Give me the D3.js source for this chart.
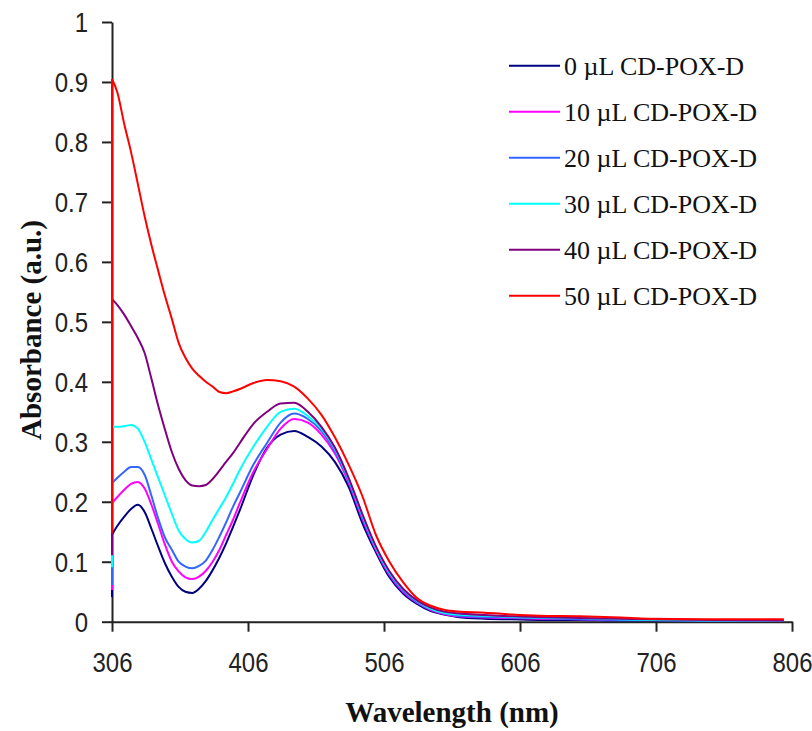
<!DOCTYPE html>
<html>
<head>
<meta charset="utf-8">
<script src="https://cdn.jsdelivr.net/npm/d3@7"></script>
<style>
  html, body { margin: 0; padding: 0; background: #fff; }
  svg { display: block; }
</style>
</head>
<body>
<svg id="chart" width="812" height="731"></svg>
<script>
// ---- data ----
const wavelengths = [306, 306, 310, 315, 320, 325, 330, 335, 340, 345, 350, 355, 360, 365, 370, 375, 380, 385, 390, 395, 400, 410, 420, 430, 440, 450, 460, 470, 480, 490, 500, 510, 520, 530, 540, 550, 560, 580, 600, 620, 650, 680, 700, 750, 800];

const s0uL  = [0.041, 0.145, 0.160, 0.175, 0.188, 0.195, 0.183, 0.155, 0.125, 0.097, 0.075, 0.058, 0.050, 0.048, 0.055, 0.068, 0.086, 0.107, 0.131, 0.158, 0.186, 0.245, 0.290, 0.312, 0.318, 0.308, 0.292, 0.266, 0.225, 0.165, 0.116, 0.074, 0.047, 0.030, 0.018, 0.012, 0.008, 0.005, 0.004, 0.003, 0.003, 0.002, 0.002, 0.001, 0.001];
const s10uL = [0.053, 0.198, 0.208, 0.220, 0.230, 0.233, 0.222, 0.195, 0.162, 0.128, 0.100, 0.084, 0.074, 0.071, 0.075, 0.085, 0.100, 0.120, 0.145, 0.170, 0.198, 0.250, 0.288, 0.322, 0.338, 0.332, 0.312, 0.280, 0.232, 0.172, 0.120, 0.078, 0.050, 0.032, 0.020, 0.013, 0.009, 0.007, 0.006, 0.005, 0.004, 0.003, 0.003, 0.002, 0.002];
const s20uL = [0.061, 0.231, 0.240, 0.250, 0.258, 0.258, 0.245, 0.210, 0.172, 0.140, 0.120, 0.100, 0.092, 0.089, 0.093, 0.102, 0.120, 0.142, 0.166, 0.192, 0.215, 0.262, 0.298, 0.332, 0.347, 0.338, 0.318, 0.284, 0.235, 0.175, 0.122, 0.080, 0.052, 0.033, 0.021, 0.014, 0.010, 0.008, 0.007, 0.006, 0.004, 0.003, 0.003, 0.002, 0.002];
const s30uL = [0.091, 0.325, 0.325, 0.326, 0.328, 0.322, 0.300, 0.270, 0.240, 0.210, 0.180, 0.152, 0.138, 0.132, 0.135, 0.150, 0.170, 0.189, 0.208, 0.230, 0.253, 0.292, 0.325, 0.350, 0.355, 0.343, 0.322, 0.288, 0.238, 0.178, 0.124, 0.082, 0.054, 0.035, 0.022, 0.015, 0.012, 0.010, 0.008, 0.007, 0.006, 0.004, 0.003, 0.002, 0.002];
const s40uL = [0.111, 0.538, 0.528, 0.512, 0.493, 0.473, 0.448, 0.405, 0.360, 0.320, 0.283, 0.255, 0.236, 0.227, 0.226, 0.228, 0.238, 0.252, 0.267, 0.281, 0.298, 0.330, 0.350, 0.364, 0.365, 0.350, 0.325, 0.290, 0.240, 0.180, 0.126, 0.084, 0.055, 0.036, 0.024, 0.017, 0.014, 0.011, 0.009, 0.008, 0.006, 0.005, 0.004, 0.003, 0.002];
const s50uL = [0.148, 0.905, 0.882, 0.830, 0.783, 0.730, 0.676, 0.628, 0.585, 0.543, 0.505, 0.465, 0.440, 0.422, 0.410, 0.400, 0.392, 0.383, 0.381, 0.384, 0.388, 0.398, 0.403, 0.401, 0.392, 0.372, 0.345, 0.307, 0.262, 0.210, 0.145, 0.100, 0.066, 0.040, 0.027, 0.020, 0.017, 0.015, 0.012, 0.010, 0.009, 0.007, 0.005, 0.004, 0.004];

const seriesNames = ["0 \u00B5L CD-POX-D", "10 \u00B5L CD-POX-D", "20 \u00B5L CD-POX-D", "30 \u00B5L CD-POX-D", "40 \u00B5L CD-POX-D", "50 \u00B5L CD-POX-D"];
const seriesValues = [s0uL, s10uL, s20uL, s30uL, s40uL, s50uL];
const seriesColors = ["#000080", "#FF00FF", "#3366FF", "#00FFFF", "#800080", "#FF0000"];

const xTicks = [306, 406, 506, 606, 706, 806];
const yTicks = [0, 0.1, 0.2, 0.3, 0.4, 0.5, 0.6, 0.7, 0.8, 0.9, 1];
const yTickLabels = ["0", "0.1", "0.2", "0.3", "0.4", "0.5", "0.6", "0.7", "0.8", "0.9", "1"];

const xTitle = "Wavelength (nm)";
const yTitle = "Absorbance (a.u.)";

// ---- drawing ----
const svg = d3.select("#chart");
svg.append("rect").attr("width", 812).attr("height", 731).attr("fill", "#fff");

const x = d3.scaleLinear().domain([306, 806]).range([112, 792]);
const y = d3.scaleLinear().domain([0, 1]).range([621.7, 22]);

const tickFont = "'Liberation Sans', Arial, sans-serif";
const serifFont = "'Liberation Serif', 'Times New Roman', serif";

// Y axis
const yAxis = svg.append("g")
  .attr("transform", `translate(${x(306)},0)`)
  .call(d3.axisLeft(y).tickValues(yTicks)
    .tickFormat((d, i) => yTickLabels[i])
    .tickSize(10).tickSizeOuter(0).tickPadding(14));
yAxis.select(".domain").attr("stroke", "#222").attr("stroke-width", 2);
yAxis.selectAll(".tick line").attr("stroke", "#222").attr("stroke-width", 2);
yAxis.selectAll(".tick text")
  .attr("font-family", tickFont).attr("font-size", 24).attr("fill", "#222")
  .attr("dy", "0.36em")
  .attr("transform", "scale(1,1.12)");

// X axis
const xAxis = svg.append("g")
  .attr("transform", `translate(0,${y(0)})`)
  .call(d3.axisBottom(x).tickValues(xTicks)
    .tickFormat(d3.format("d"))
    .tickSize(10).tickSizeOuter(0).tickPadding(18));
xAxis.select(".domain").attr("stroke", "#222").attr("stroke-width", 2);
xAxis.selectAll(".tick line").attr("stroke", "#222").attr("stroke-width", 2);
xAxis.selectAll(".tick text")
  .attr("font-family", tickFont).attr("font-size", 24).attr("fill", "#222")
  .attr("transform", "scale(1,1.12)");

// Lines: the first step (straight vertical drop at 306 nm) is linear, the rest smoothed
const dropLine = d3.line()
  .x(p => x(p[0]))
  .y(p => y(p[1]));
const smoothLine = d3.line()
  .x(p => x(p[0]))
  .y(p => y(p[1]))
  .curve(d3.curveMonotoneX);

const seriesPoints = seriesValues.map(vals => vals.map((v, i) => [wavelengths[i], v]));

const lines = svg.append("g").selectAll("g")
  .data(seriesPoints)
  .join("g");
lines.append("path")
  .attr("d", pts => dropLine(pts.slice(0, 2)))
  .attr("fill", "none")
  .attr("stroke", (d, i) => seriesColors[i])
  .attr("stroke-width", 2);
lines.append("path")
  .attr("d", pts => smoothLine(pts.slice(1)))
  .attr("fill", "none")
  .attr("stroke", (d, i) => seriesColors[i])
  .attr("stroke-width", 2)
  .attr("stroke-linejoin", "round");

// Legend
const legend = svg.append("g");
const lg = legend.selectAll("g")
  .data(seriesNames)
  .join("g")
  .attr("transform", (d, i) => `translate(509,${65.7 + i * 46})`);
lg.append("line")
  .attr("x1", 0).attr("x2", 51).attr("y1", 0).attr("y2", 0)
  .attr("stroke", (d, i) => seriesColors[i]).attr("stroke-width", 2);
lg.append("text")
  .attr("x", 55).attr("y", 9)
  .attr("font-family", serifFont).attr("font-size", 26).attr("fill", "#111")
  .text(d => d);

// Titles
svg.append("text")
  .attr("x", 452).attr("y", 722)
  .attr("text-anchor", "middle")
  .attr("font-family", serifFont).attr("font-weight", "bold").attr("font-size", 29).attr("fill", "#111")
  .text(xTitle);

svg.append("text")
  .attr("transform", "translate(41,330) rotate(-90)")
  .attr("text-anchor", "middle")
  .attr("font-family", serifFont).attr("font-weight", "bold").attr("font-size", 29).attr("fill", "#111")
  .text(yTitle);
</script>
</body>
</html>
